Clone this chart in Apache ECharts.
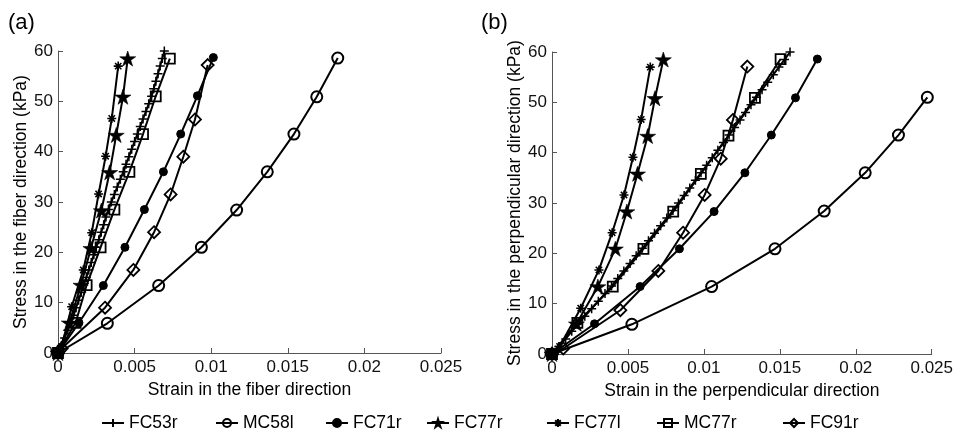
<!DOCTYPE html>
<html><head><meta charset="utf-8">
<script src="https://cdn.jsdelivr.net/npm/echarts@6/dist/echarts.min.js"></script>
<style>html,body{margin:0;padding:0;background:#fff}#c{width:956px;height:437px}</style>
</head><body><div id="c"></div>
<script>
// ---------- DATA ----------
const seriesNames = ['FC53r', 'MC58l', 'FC71r', 'FC77r', 'FC77l', 'MC77r', 'FC91r'];
const strainTicks = [0, 0.005, 0.01, 0.015, 0.02, 0.025];
const stressTicks = [0, 10, 20, 30, 40, 50, 60];

// Panel (a): [strain in the fiber direction, stress (kPa)]
const fiber_FC53r = [[0,0],[0.00022,1.5],[0.00043,3],[0.00064,4.5],[0.00085,6],[0.00102,7.5],[0.00118,9],[0.00135,10.5],[0.00151,12],[0.00168,13.5],[0.00185,15],[0.00201,16.5],[0.00217,18],[0.00234,19.5],[0.0025,21],[0.00266,22.5],[0.00282,24],[0.00298,25.5],[0.00313,27],[0.00329,28.5],[0.00348,30],[0.00368,31.5],[0.00387,33],[0.00407,34.5],[0.00426,36],[0.00444,37.5],[0.00463,39],[0.00481,40.5],[0.005,42],[0.00518,43.5],[0.00537,45],[0.00555,46.5],[0.00574,48],[0.00592,49.5],[0.00611,51],[0.00625,52.5],[0.00639,54],[0.00653,55.5],[0.00667,57],[0.00681,58.5],[0.00694,60]];
const fiber_MC58l = [[0,0],[0.00322,5.9],[0.00657,13.4],[0.00936,21.0],[0.01166,28.4],[0.01366,36.0],[0.0154,43.5],[0.01689,50.9],[0.01826,58.6]];
const fiber_FC71r = [[0,0],[0.00137,6.0],[0.00296,13.4],[0.00437,21.0],[0.00564,28.5],[0.00688,36.0],[0.00801,43.5],[0.0091,51.1],[0.01014,58.7]];
const fiber_FC77r = [[0,0],[0.00074,6.0],[0.0015,13.5],[0.00215,20.8],[0.00283,28.3],[0.00337,35.9],[0.0038,43.3],[0.00424,50.9],[0.00455,58.5]];
const fiber_FC77l = [[0,0],[0.00024,1.3],[0.00089,9.2],[0.00165,16.5],[0.0022,23.9],[0.00265,31.6],[0.00311,39.1],[0.00351,46.6],[0.00393,57.0]];
const fiber_MC77r = [[0,0],[0.00115,6.0],[0.00187,13.5],[0.00278,21.0],[0.00368,28.5],[0.00466,36.0],[0.00555,43.5],[0.00638,51.0],[0.0073,58.5]];
const fiber_FC91r = [[0,0],[0.00024,0.9],[0.00307,9.0],[0.00492,16.5],[0.00627,24.0],[0.00735,31.5],[0.00818,39.0],[0.00894,46.4],[0.00977,57.2]];

// Panel (b): [strain in the perpendicular direction, stress (kPa)]
const perp_FC53r = [[0,0],[0.00045,1.5],[0.0009,3],[0.0013,4.5],[0.00172,6],[0.00216,7.5],[0.00261,9],[0.00305,10.5],[0.00349,12],[0.00392,13.5],[0.00433,15],[0.00473,16.5],[0.00514,18],[0.00554,19.5],[0.00595,21],[0.00635,22.5],[0.00675,24],[0.00715,25.5],[0.00756,27],[0.00796,28.5],[0.00833,30],[0.0087,31.5],[0.00907,33],[0.00944,34.5],[0.00981,36],[0.01018,37.5],[0.01055,39],[0.01092,40.5],[0.01129,42],[0.01166,43.5],[0.01202,45],[0.01238,46.5],[0.01274,48],[0.0131,49.5],[0.01346,51],[0.01383,52.5],[0.0142,54],[0.01457,55.5],[0.01494,57],[0.01531,58.5],[0.01567,60]];
const perp_MC58l = [[0,0],[0.00526,5.9],[0.01051,13.4],[0.01468,20.9],[0.01792,28.4],[0.02062,36.0],[0.02281,43.5],[0.02471,51.0]];
const perp_FC71r = [[0,0],[0.0028,6.0],[0.0058,13.4],[0.00839,20.9],[0.01067,28.3],[0.0127,36.0],[0.01444,43.5],[0.01603,50.9],[0.01747,58.6]];
const perp_FC77r = [[0,0],[0.00161,6.0],[0.00302,13.4],[0.00417,20.9],[0.00493,28.3],[0.00563,35.8],[0.0063,43.3],[0.00678,50.8],[0.00733,58.5]];
const perp_FC77l = [[0,0],[0.0005,1.5],[0.00189,9.1],[0.00309,16.7],[0.00396,24.1],[0.00474,31.6],[0.00533,39.1],[0.00587,46.6],[0.00647,57.0]];
const perp_MC77r = [[0,0],[0.00167,6.2],[0.004,13.4],[0.00602,20.9],[0.00798,28.3],[0.0098,35.8],[0.01162,43.4],[0.01336,50.9],[0.01505,58.6]];
const perp_FC91r = [[0,0],[0.00074,1.1],[0.0045,8.7],[0.007,16.5],[0.00863,24.1],[0.01005,31.6],[0.01111,38.8],[0.01191,46.5],[0.01286,57.1]];

const fiberData = {FC53r: fiber_FC53r, MC58l: fiber_MC58l, FC71r: fiber_FC71r, FC77r: fiber_FC77r, FC77l: fiber_FC77l, MC77r: fiber_MC77r, FC91r: fiber_FC91r};
const perpData = {FC53r: perp_FC53r, MC58l: perp_MC58l, FC71r: perp_FC71r, FC77r: perp_FC77r, FC77l: perp_FC77l, MC77r: perp_MC77r, FC91r: perp_FC91r};

// ---------- STYLE ----------
const FONT = 'Liberation Sans, Arial, Helvetica, sans-serif';
const STAR = 'path://M50,0L61.17,34.63L97.55,34.55L68.07,55.87L79.39,90.45L50,69L20.61,90.45L31.93,55.87L2.45,34.55L38.83,34.63Z';
const markers = {
  FC53r: {symbol: 'path://M5,0L5,10M0,5L10,5', size: 9, fill: 'rgba(0,0,0,0)', bw: 1.5},
  MC58l: {symbol: 'circle', size: 11, fill: 'rgba(0,0,0,0)', bw: 2},
  FC71r: {symbol: 'circle', size: 8, fill: '#000', bw: 1},
  FC77r: {symbol: STAR, size: [16, 15], fill: '#000', bw: 0.6},
  FC77l: {symbol: 'path://M5,0L5,10M0,5L10,5M1.5,1.5L8.5,8.5M8.5,1.5L1.5,8.5', size: 9, fill: 'rgba(0,0,0,0)', bw: 1.6},
  MC77r: {symbol: 'rect', size: 10, fill: 'rgba(0,0,0,0)', bw: 1.8},
  FC91r: {symbol: 'diamond', size: 12, fill: 'rgba(0,0,0,0)', bw: 1.8}
};
const legendLeft = [96, 210, 320, 421, 541, 651, 777];

function makeAxisX(idx, name) {
  return {
    gridIndex: idx, type: 'value', min: strainTicks[0], max: strainTicks[strainTicks.length - 1],
    interval: strainTicks[1] - strainTicks[0],
    name: name, nameLocation: 'middle', nameGap: 19,
    nameTextStyle: {fontFamily: FONT, fontSize: 17.5, color: '#000'},
    axisLine: {show: true, lineStyle: {color: '#555', width: 1}},
    axisTick: {show: true, inside: true, length: 5, lineStyle: {color: '#555'}},
    axisLabel: {fontFamily: FONT, fontSize: 17, color: '#111', margin: 6,
      formatter: v => String(+v.toFixed(4))},
    splitLine: {show: false}
  };
}
function makeAxisY(idx, name) {
  return {
    gridIndex: idx, type: 'value', min: stressTicks[0], max: stressTicks[stressTicks.length - 1],
    interval: stressTicks[1] - stressTicks[0],
    name: name, nameLocation: 'middle', nameGap: 28, nameRotate: 90,
    nameTextStyle: {fontFamily: FONT, fontSize: 17.5, color: '#000'},
    axisLine: {show: true, lineStyle: {color: '#555', width: 1}},
    axisTick: {show: true, inside: true, length: 5, lineStyle: {color: '#555'}},
    axisLabel: {fontFamily: FONT, fontSize: 17, color: '#111', margin: 5},
    splitLine: {show: false}
  };
}

const series = [];
[[fiberData, 0], [perpData, 1]].forEach(([set, gi]) => {
  seriesNames.forEach(n => {
    const m = markers[n];
    series.push({
      name: n, type: 'line', xAxisIndex: gi, yAxisIndex: gi,
      data: set[n], symbol: m.symbol, symbolSize: m.size, showSymbol: true, showAllSymbol: true,
      clip: false, animation: false,
      lineStyle: {color: '#000', width: 2},
      itemStyle: {color: m.fill, borderColor: '#000', borderWidth: m.bw},
      emphasis: {disabled: true}
    });
  });
});

const chart = echarts.init(document.getElementById('c'), null, {renderer: 'canvas'});
chart.setOption({
  backgroundColor: '#fff',
  animation: false,
  grid: [
    {left: 58, top: 51, width: 383, height: 302},
    {left: 552, top: 52, width: 382, height: 302}
  ],
  xAxis: [makeAxisX(0, 'Strain in the fiber direction'), makeAxisX(1, 'Strain in the perpendicular direction')],
  yAxis: [makeAxisY(0, 'Stress in the fiber direction (kPa)'), makeAxisY(1, 'Stress in the perpendicular direction (kPa)')],
  legend: seriesNames.map((n, i) => ({
    data: [n], left: legendLeft[i], top: 409, itemWidth: 22, itemHeight: 10, itemGap: 0,
    selectedMode: false, textStyle: {fontFamily: FONT, fontSize: 17.5, color: '#000'}
  })),
  graphic: [
    {type: 'text', left: 8, top: 12, style: {text: '(a)', font: '22px ' + FONT, fill: '#000'}},
    {type: 'text', left: 481, top: 12, style: {text: '(b)', font: '22px ' + FONT, fill: '#000'}}
  ],
  series: series
});
</script></body></html>
